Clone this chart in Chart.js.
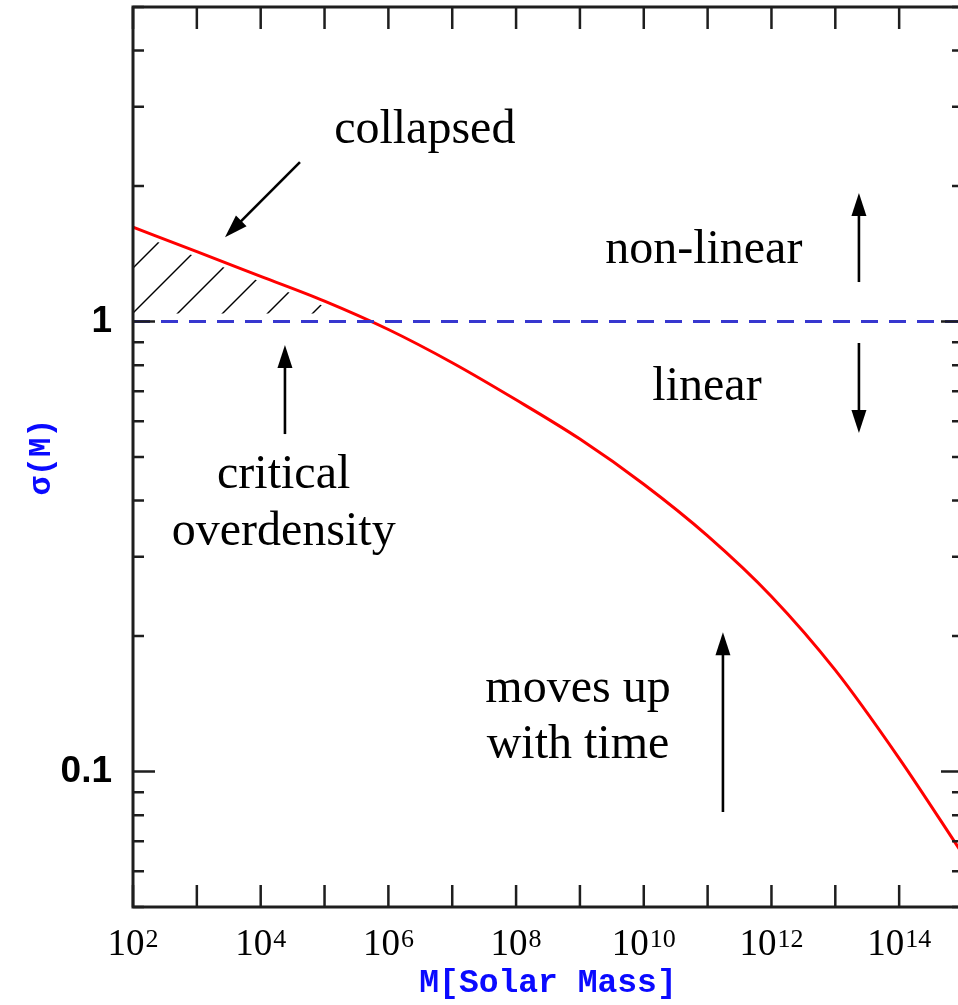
<!DOCTYPE html>
<html>
<head>
<meta charset="utf-8">
<script src="https://cdn.jsdelivr.net/npm/chart.js@4/dist/chart.umd.min.js"></script>
<style>
  html, body { margin: 0; padding: 0; background: #ffffff; overflow: hidden; }
  #wrap { width: 966px; height: 1005px; }
</style>
</head>
<body>
<div id="wrap"><canvas id="c" width="966" height="1005"></canvas></div>
<script>
// rms mass fluctuation sigma(M) against halo mass, one value per decade
const massExponents = [2, 3, 4, 5, 6, 7, 8, 9, 10, 11, 12, 13, 14, 15];
const sigmaValues   = [1.62, 1.43, 1.26, 1.11, 0.96, 0.81, 0.67, 0.548, 0.435, 0.334, 0.245, 0.168, 0.107, 0.0654];

// critical overdensity threshold
const criticalSigma = 1;

// axis ticks and labels
const xTickExponents  = [2, 3, 4, 5, 6, 7, 8, 9, 10, 11, 12, 13, 14, 15];
const xLabelExponents = [2, 4, 6, 8, 10, 12, 14];
const yTickValues = [0.05, 0.06, 0.07, 0.08, 0.09, 0.1, 0.2, 0.3, 0.4, 0.5, 0.6, 0.7, 0.8, 0.9, 1, 2, 3, 4, 5];
const yLabelValues = [0.1, 1];
const yLabelTexts  = ['0.1', '1'];

// text notes and arrows, placed in data space (log10 M, sigma)
const notes = [
  { lines: ['collapsed'], lm: 6.57, s: [2.49] },
  { lines: ['non-linear'], lm: 10.94, s: [1.349] },
  { lines: ['linear'], lm: 10.99, s: [0.669] },
  { lines: ['critical', 'overdensity'], lm: 4.36, s: [0.4266, 0.3187] },
  { lines: ['moves up', 'with time'], lm: 8.97, s: [0.1427, 0.1072] }
];
const arrows = [
  { from: [4.615, 2.26], to: [3.441, 1.54] },
  { from: [13.37, 1.224], to: [13.37, 1.93] },
  { from: [13.37, 0.896], to: [13.37, 0.565] },
  { from: [4.38, 0.5623], to: [4.38, 0.8866] },
  { from: [11.24, 0.0813], to: [11.24, 0.204] }
];

const SERIF = '"Liberation Serif", "Times New Roman", serif';

// diagonal hatching for the collapsed region
function hatchPattern() {
  const t = document.createElement('canvas');
  t.width = 45; t.height = 45;
  const g = t.getContext('2d');
  g.strokeStyle = '#000';
  g.lineWidth = 1.4;
  for (const c of [-4, 41, 86]) {
    g.beginPath();
    g.moveTo(c + 10, -10);
    g.lineTo(-10, c + 10);
    g.stroke();
  }
  return g.createPattern(t, 'repeat');
}

const curvePoints = massExponents.map((e, i) => ({ x: Math.pow(10, e), y: sigmaValues[i] }));
const thresholdPoints = [
  { x: Math.pow(10, massExponents[0]), y: criticalSigma },
  { x: Math.pow(10, massExponents[massExponents.length - 1]), y: criticalSigma }
];

function zeroPadding(s) {
  s.paddingTop = 0; s.paddingBottom = 0; s.paddingLeft = 0; s.paddingRight = 0;
}

const frameAndNotes = {
  id: 'frameAndNotes',
  // keep the hatching a little clear of the curve and of the threshold line
  beforeDatasetDraw(chart, args) {
    if (args.index !== 0) return;
    const { ctx, chartArea: a, scales: { y } } = chart;
    ctx.save();
    ctx.beginPath();
    ctx.rect(a.left, a.top, a.right - a.left, a.bottom - a.top);
    ctx.clip();
    ctx.strokeStyle = '#ffffff';
    ctx.lineWidth = 10;
    ctx.beginPath();
    args.meta.dataset.path(ctx);
    ctx.stroke();
    const py = y.getPixelForValue(criticalSigma);
    ctx.fillStyle = '#ffffff';
    ctx.fillRect(a.left, py - 8, a.right - a.left, 16);
    ctx.restore();
  },
  afterDatasetsDraw(chart) {
    const { ctx, chartArea: a, scales: { x, y } } = chart;
    ctx.save();
    // inward tick marks on all four sides
    ctx.strokeStyle = '#1e1e1e';
    ctx.lineWidth = 2.5;
    ctx.beginPath();
    x.ticks.forEach(t => {
      const px = x.getPixelForValue(t.value);
      ctx.moveTo(px, a.bottom); ctx.lineTo(px, a.bottom - 22);
      ctx.moveTo(px, a.top); ctx.lineTo(px, a.top + 22);
    });
    y.ticks.forEach(t => {
      const py = y.getPixelForValue(t.value);
      const len = yLabelValues.includes(t.value) ? 22 : 11;
      ctx.moveTo(a.left, py); ctx.lineTo(a.left + len, py);
      ctx.moveTo(a.right, py); ctx.lineTo(a.right - len, py);
    });
    ctx.stroke();
    ctx.lineWidth = 3;
    ctx.strokeRect(a.left, a.top, a.right - a.left, a.bottom - a.top);

    // decade labels 10^n under the mass axis
    ctx.fillStyle = '#000';
    ctx.textAlign = 'left';
    ctx.textBaseline = 'alphabetic';
    const baseY = a.bottom + 48;
    xLabelExponents.forEach(e => {
      const px = x.getPixelForValue(Math.pow(10, e));
      ctx.font = '37px ' + SERIF;
      const wBase = ctx.measureText('10').width;
      ctx.font = '26px ' + SERIF;
      const wExp = ctx.measureText(String(e)).width;
      const left = px - (wBase + wExp + 1) / 2;
      ctx.font = '37px ' + SERIF;
      ctx.fillText('10', left, baseY);
      ctx.font = '26px ' + SERIF;
      ctx.fillText(String(e), left + wBase + 1, baseY - 8);
    });

    // notes
    ctx.font = '48px ' + SERIF;
    ctx.textAlign = 'center';
    notes.forEach(n => {
      const px = x.getPixelForValue(Math.pow(10, n.lm));
      n.lines.forEach((line, i) => ctx.fillText(line, px, y.getPixelForValue(n.s[i])));
    });

    // arrows
    ctx.strokeStyle = '#000';
    ctx.lineWidth = 2.6;
    arrows.forEach(ar => {
      const x0 = x.getPixelForValue(Math.pow(10, ar.from[0])), y0 = y.getPixelForValue(ar.from[1]);
      const x1 = x.getPixelForValue(Math.pow(10, ar.to[0])),   y1 = y.getPixelForValue(ar.to[1]);
      const ang = Math.atan2(y1 - y0, x1 - x0);
      const head = 23, half = 7.5;
      const bx = x1 - head * Math.cos(ang), by = y1 - head * Math.sin(ang);
      ctx.beginPath();
      ctx.moveTo(x0, y0); ctx.lineTo(bx + 2 * Math.cos(ang), by + 2 * Math.sin(ang));
      ctx.stroke();
      ctx.beginPath();
      ctx.moveTo(x1, y1);
      ctx.lineTo(bx - half * Math.sin(ang), by + half * Math.cos(ang));
      ctx.lineTo(bx + half * Math.sin(ang), by - half * Math.cos(ang));
      ctx.closePath();
      ctx.fill();
    });
    ctx.restore();
  }
};

new Chart(document.getElementById('c'), {
  type: 'line',
  data: {
    datasets: [
      {
        data: curvePoints,
        order: 1,
        borderColor: '#ff0000',
        borderWidth: 3,
        pointRadius: 0,
        cubicInterpolationMode: 'monotone',
        fill: { target: { value: criticalSigma }, above: hatchPattern(), below: 'rgba(0,0,0,0)' }
      },
      {
        data: thresholdPoints,
        order: 0,
        borderColor: '#3737cf',
        borderWidth: 3,
        borderDash: [17, 11],
        pointRadius: 0,
        fill: false
      }
    ]
  },
  options: {
    responsive: false,
    animation: false,
    devicePixelRatio: 1,
    layout: { padding: { top: 7, right: 3, bottom: 0, left: 0 } },
    plugins: { legend: { display: false }, tooltip: { enabled: false } },
    scales: {
      x: {
        type: 'logarithmic',
        min: Math.pow(10, xTickExponents[0]),
        max: Math.pow(10, xTickExponents[xTickExponents.length - 1]),
        afterBuildTicks: s => { s.ticks = xTickExponents.map(e => ({ value: Math.pow(10, e) })); },
        afterFit: s => { s.height = 98; zeroPadding(s); },
        grid: { display: false, drawTicks: false },
        border: { display: false },
        ticks: { display: false, autoSkip: false },
        title: {
          display: true,
          text: 'M[Solar Mass]',
          color: '#0a0aff',
          font: { family: '"Liberation Mono", "Courier New", monospace', size: 33, weight: 'bold' },
          padding: { top: 0, bottom: 2 }
        }
      },
      y: {
        type: 'logarithmic',
        min: yTickValues[0],
        max: yTickValues[yTickValues.length - 1],
        afterBuildTicks: s => { s.ticks = yTickValues.map(v => ({ value: v })); },
        afterFit: s => { s.width = 133; zeroPadding(s); },
        grid: { display: false, drawTicks: false },
        border: { display: false },
        ticks: {
          autoSkip: false,
          padding: 21,
          color: '#000',
          font: { family: '"Liberation Sans", Arial, sans-serif', size: 37, weight: 'bold' },
          callback: v => {
            const i = yLabelValues.indexOf(v);
            return i >= 0 ? yLabelTexts[i] : '';
          }
        },
        title: {
          display: true,
          text: '\u03C3(M)',
          color: '#0a0aff',
          font: { family: '"Liberation Mono", "Courier New", monospace', size: 32, weight: 'bold' },
          padding: { top: 23, bottom: 0 }
        }
      }
    }
  },
  plugins: [frameAndNotes]
});
</script>
</body>
</html>
